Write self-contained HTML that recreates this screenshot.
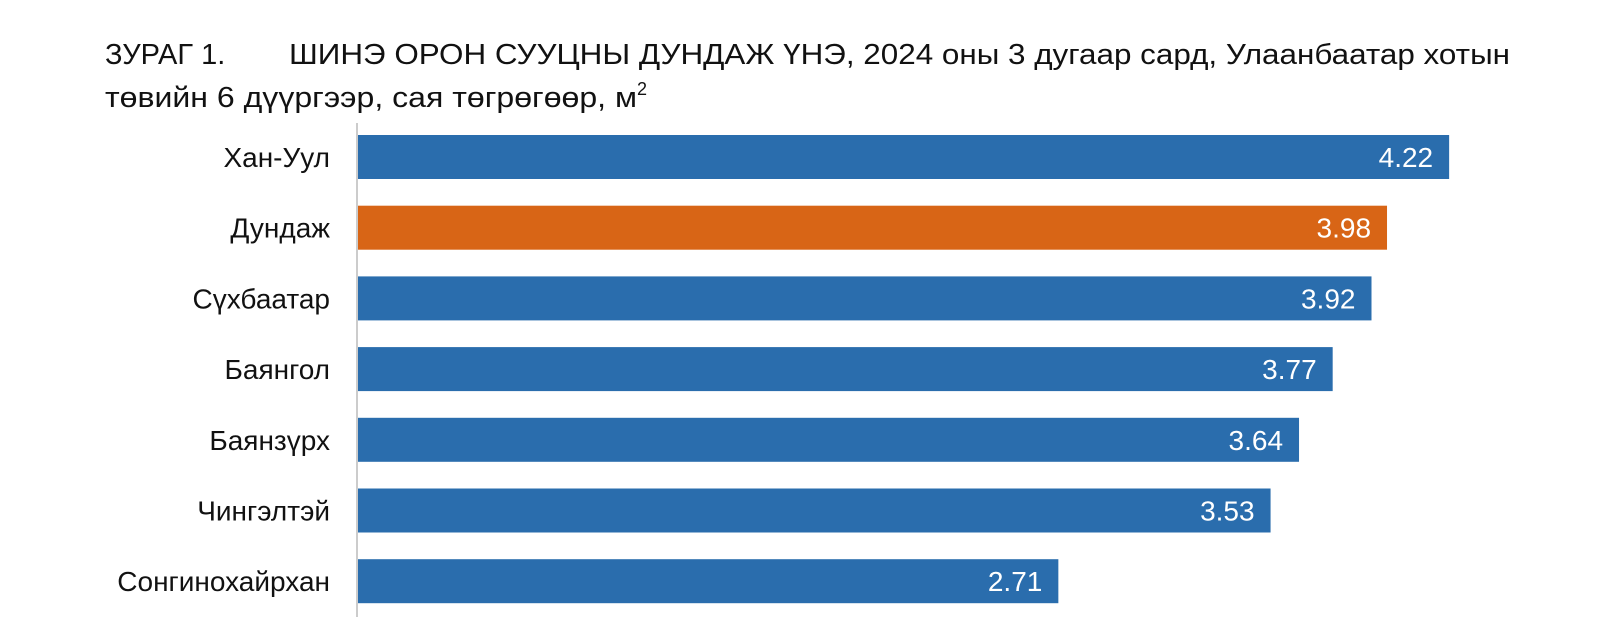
<!DOCTYPE html>
<html><head><meta charset="utf-8"><style>
html,body{margin:0;padding:0;background:#fff;}
svg{display:block;font-family:"Liberation Sans",sans-serif;}
</style></head><body>
<svg id="chart" width="1600" height="629" viewBox="0 0 1600 629">
<text x="105" y="64" font-size="29" fill="#111">ЗУРАГ 1.</text>
<text x="289" y="64" font-size="29" fill="#111" textLength="1221" lengthAdjust="spacingAndGlyphs">ШИНЭ ОРОН СУУЦНЫ ДУНДАЖ ҮНЭ, 2024 оны 3 дугаар сард, Улаанбаатар хотын</text>
<text x="105" y="107" font-size="29" fill="#111"><tspan textLength="532" lengthAdjust="spacingAndGlyphs">төвийн 6 дүүргээр, сая төгрөгөөр, м</tspan><tspan font-size="18" dy="-12">2</tspan></text>
<line x1="357" y1="123" x2="357" y2="617" stroke="#bbb" stroke-width="1.5"/>
<g id="bars"></g>
</svg>
<script>
const categories=["Хан-Уул","Дундаж","Сүхбаатар","Баянгол","Баянзүрх","Чингэлтэй","Сонгинохайрхан"];
const values=[4.22,3.98,3.92,3.77,3.64,3.53,2.71];
const labels=["4.22","3.98","3.92","3.77","3.64","3.53","2.71"];
const highlight=[false,true,false,false,false,false,false];
const x0=357,pxPerUnit=258.8,top0=135,pitch=70.7,bh=44;
const xs=v=>x0+v*pxPerUnit;
const ys=i=>top0+i*pitch;
const g=document.getElementById('bars');
const NS="http://www.w3.org/2000/svg";
categories.forEach((c,i)=>{
  const r=document.createElementNS(NS,'rect');
  
  
  r.setAttribute('x',x0+1);r.setAttribute('y',ys(i));
  r.setAttribute('width',xs(values[i])-x0-1);r.setAttribute('height',bh);
  r.setAttribute('fill',highlight[i]?'#d86516':'#2a6dad');
  g.appendChild(r);
  const t=document.createElementNS(NS,'text');
  
  
  t.setAttribute('x',330);t.setAttribute('y',ys(i)+bh/2+10);
  t.setAttribute('text-anchor','end');t.setAttribute('font-size','28');t.setAttribute('fill','#111');
  t.textContent=c;g.appendChild(t);
  const v=document.createElementNS(NS,'text');
  
  
  v.setAttribute('x',xs(values[i])-16);v.setAttribute('y',ys(i)+bh/2+10);
  v.setAttribute('text-anchor','end');v.setAttribute('font-size','28');v.setAttribute('fill','#fff');
  v.textContent=labels[i];g.appendChild(v);
});
</script>
</body></html>
